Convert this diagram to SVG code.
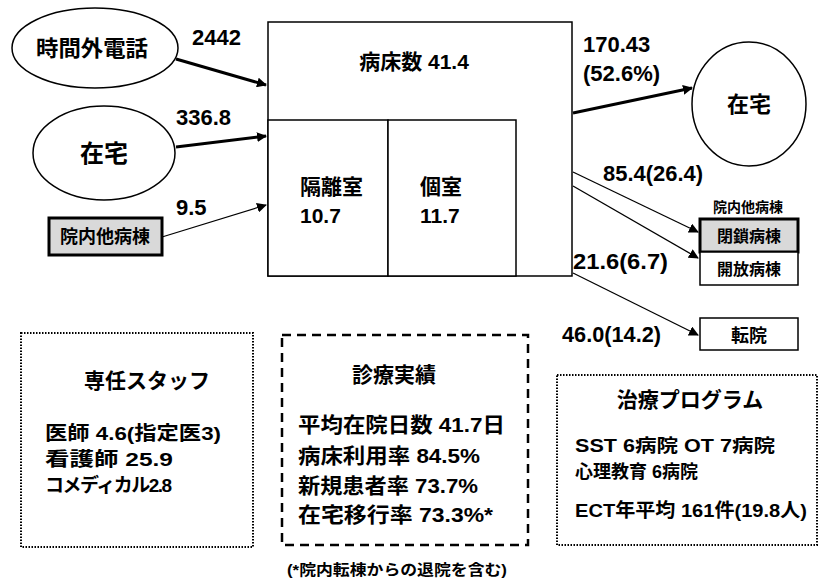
<svg xmlns="http://www.w3.org/2000/svg" width="819" height="587" viewBox="0 0 819 587">
<style>
text{font-family:"Liberation Sans","Noto Sans CJK JP",sans-serif;font-weight:bold;fill:#000}
.n{stroke:#000;stroke-width:1.5;fill:#fff}
.g{stroke:#000;stroke-width:3;fill:#d9d9d9}
.thick{stroke:#000;stroke-width:3;fill:none}
.thin{stroke:#000;stroke-width:1.3;fill:none}
.dot{stroke:#000;stroke-width:2;stroke-dasharray:1.5 1.5;fill:none}
.dash{stroke:#000;stroke-width:2.5;stroke-dasharray:9 6;fill:none}
.lbl{font-size:22px}
</style>
<defs>
<marker id="ah" viewBox="0 0 10 10" refX="9" refY="5" markerWidth="10" markerHeight="10" markerUnits="userSpaceOnUse" orient="auto"><path d="M0,0 L10,5 L0,10 z" fill="#000"/></marker>
</defs>
<rect width="819" height="587" fill="#fff"/>

<g id="n-jikangai"><ellipse class="n" cx="95" cy="48" rx="83" ry="40"/><text x="92" y="56" font-size="22" text-anchor="middle" textLength="112" lengthAdjust="spacingAndGlyphs">時間外電話</text></g>
<g id="n-zaitaku-in"><ellipse class="n" cx="104" cy="153" rx="71" ry="47"/><text x="104" y="162" font-size="24" text-anchor="middle">在宅</text></g>
<g id="n-innai-in"><rect class="g" x="49" y="218" width="113" height="37"/><text x="105" y="243" font-size="18" text-anchor="middle">院内他病棟</text></g>

<g id="n-main">
<rect class="n" x="268" y="22" width="304" height="254"/>
<text x="414" y="69" font-size="21" text-anchor="middle">病床数 41.4</text>
</g>
<g id="n-kakuri"><rect class="n" x="268" y="120" width="120" height="156"/><text x="300" y="194" font-size="21">隔離室</text><text x="300" y="223" font-size="21">10.7</text></g>
<g id="n-koshitsu"><rect class="n" x="388" y="120" width="128" height="156"/><text x="420" y="194" font-size="21">個室</text><text x="420" y="223" font-size="21">11.7</text></g>

<g id="n-zaitaku-out"><ellipse class="n" cx="749" cy="104" rx="57" ry="62"/><text x="749" y="112" font-size="22" text-anchor="middle">在宅</text></g>
<g id="n-innai-out"><text x="748" y="212" font-size="14" text-anchor="middle">院内他病棟</text></g>
<g id="n-heisa"><rect class="g" x="700" y="219" width="98" height="33"/><text x="749" y="242" font-size="16" text-anchor="middle">閉鎖病棟</text></g>
<g id="n-kaiho"><rect class="n" x="700" y="252" width="98" height="33"/><text x="749" y="275" font-size="16" text-anchor="middle">開放病棟</text></g>
<g id="n-tenin"><rect class="n" x="700" y="318" width="98" height="32"/><text x="749" y="342" font-size="18" text-anchor="middle">転院</text></g>

<g id="connectors">
<line class="thick" x1="176" y1="59" x2="266" y2="85" marker-end="url(#ah)"/>
<line class="thick" x1="176" y1="147" x2="266" y2="136" marker-end="url(#ah)"/>
<line class="thin" x1="162" y1="237" x2="266" y2="205" marker-end="url(#ah)"/>
<line class="thick" x1="573" y1="113" x2="692" y2="88" marker-end="url(#ah)"/>
<line class="thin" x1="573" y1="172" x2="698" y2="232" marker-end="url(#ah)"/>
<line class="thin" x1="573" y1="186" x2="698" y2="258" marker-end="url(#ah)"/>
<line class="thin" x1="573" y1="273" x2="698" y2="335" marker-end="url(#ah)"/>
</g>

<g id="labels">
<text class="lbl" x="192" y="45">2442</text>
<text class="lbl" x="176" y="125">336.8</text>
<text class="lbl" x="176" y="215">9.5</text>
<text class="lbl" x="583" y="52">170.43</text>
<text class="lbl" x="583" y="81">(52.6%)</text>
<text class="lbl" x="603" y="181" textLength="100" lengthAdjust="spacingAndGlyphs">85.4(26.4)</text>
<text class="lbl" x="573" y="269" textLength="95" lengthAdjust="spacingAndGlyphs">21.6(6.7)</text>
<text class="lbl" x="562" y="342" textLength="99" lengthAdjust="spacingAndGlyphs">46.0(14.2)</text>
</g>

<g id="n-staff">
<rect class="dot" x="21" y="333" width="232" height="214"/>
<text x="147" y="388" font-size="21" text-anchor="middle">専任スタッフ</text>
<text x="45" y="440" font-size="19" textLength="176" lengthAdjust="spacingAndGlyphs">医師 4.6(指定医3)</text>
<text x="45" y="466" font-size="19" textLength="128" lengthAdjust="spacingAndGlyphs">看護師 25.9</text>
<text x="45" y="492" font-size="19" letter-spacing="-1.5">コメディカル2.8</text>
</g>

<g id="n-jisseki">
<rect class="dash" x="282" y="335" width="246" height="210"/>
<text x="394" y="382" font-size="21" text-anchor="middle">診療実績</text>
<text x="298" y="432" font-size="21" textLength="207" lengthAdjust="spacingAndGlyphs">平均在院日数 41.7日</text>
<text x="298" y="463" font-size="21" textLength="182" lengthAdjust="spacingAndGlyphs">病床利用率 84.5%</text>
<text x="298" y="493" font-size="21" textLength="180" lengthAdjust="spacingAndGlyphs">新規患者率 73.7%</text>
<text x="298" y="522" font-size="21" textLength="195" lengthAdjust="spacingAndGlyphs">在宅移行率 73.3%*</text>
</g>
<text x="287" y="575" font-size="15" textLength="220" lengthAdjust="spacingAndGlyphs">(*院内転棟からの退院を含む)</text>

<g id="n-program">
<rect class="dot" x="557" y="375" width="260" height="170"/>
<text x="690" y="407" font-size="21" text-anchor="middle">治療プログラム</text>
<text x="575" y="452" font-size="18" textLength="200" lengthAdjust="spacingAndGlyphs">SST 6病院  OT 7病院</text>
<text x="575" y="478" font-size="18">心理教育 6病院</text>
<text x="575" y="517" font-size="19" textLength="232" lengthAdjust="spacingAndGlyphs">ECT年平均 161件(19.8人)</text>
</g>
</svg>
